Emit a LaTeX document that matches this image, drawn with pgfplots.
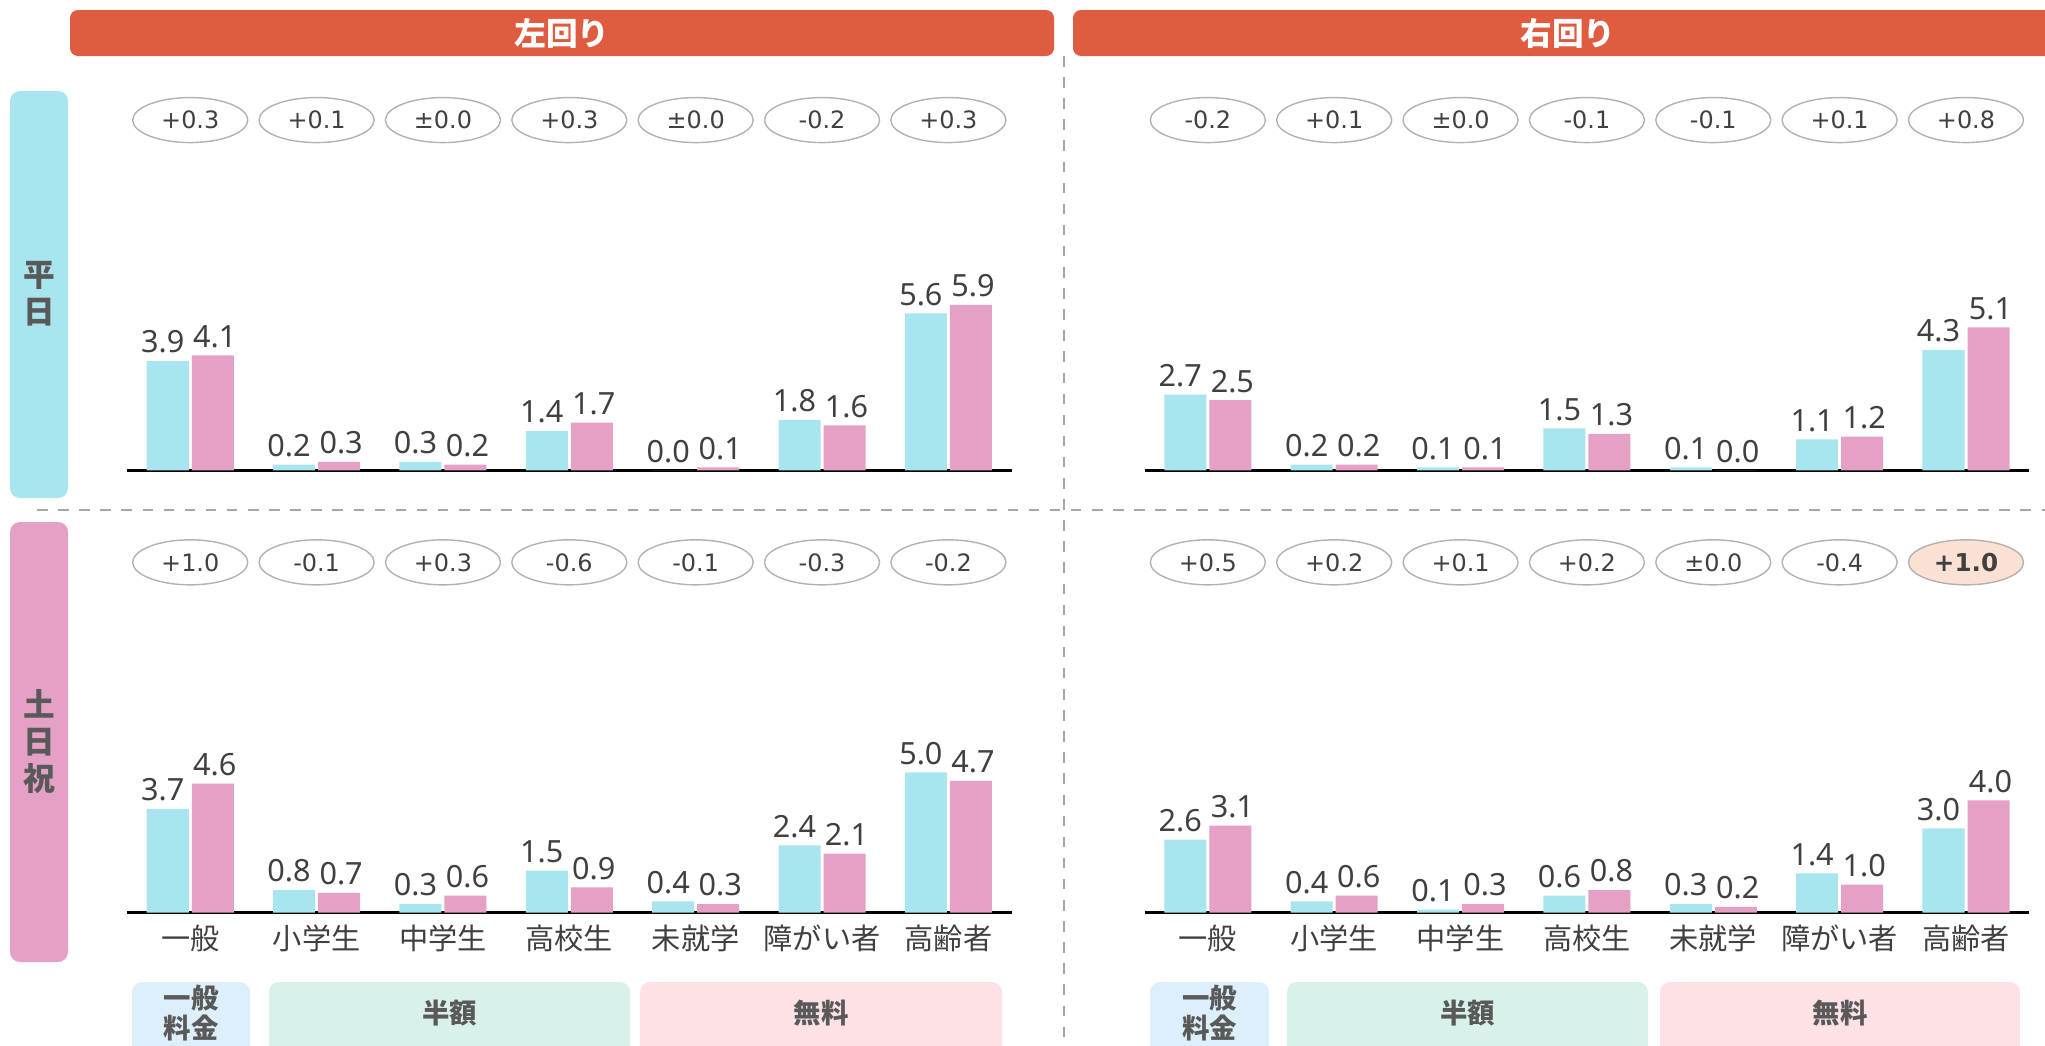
\documentclass[border=0pt]{standalone}
\usepackage{pgfplots}
\pgfplotsset{compat=1.18}
\usetikzlibrary{shapes.geometric}
\usepackage{fontspec}
\setmainfont{Noto Sans}
\newfontfamily\jp{Noto Sans CJK JP}
\newfontfamily\dv{DejaVu Sans}

\definecolor{barcyan}{HTML}{A9E5EE}
\definecolor{barpink}{HTML}{E5A0C6}
\definecolor{hdr}{HTML}{E05C40}
\definecolor{txt}{HTML}{404040}
\definecolor{sidetxt}{HTML}{595959}
\definecolor{boxblue}{HTML}{DDEFFA}
\definecolor{boxgreen}{HTML}{D8F1EA}
\definecolor{boxpink}{HTML}{FDE1E4}
\definecolor{peach}{HTML}{FBE1D3}

% 各パネル共通
\pgfplotsset{
  panel/.style={
    scale only axis, width=8.84cm, height=3.5cm,
    xmin=-0.5, xmax=6.5, ymin=0, ymax=12.5,
    axis x line*=bottom, axis y line=none,
    x axis line style={line width=0.8pt, -},
    ytick=\empty, xtick={0,...,6}, major tick length=0pt,
    ybar=0.03cm, bar width=0.42cm,
    clip=false, anchor=south west,
    nodes near coords={\pgfmathprintnumber[fixed,fixed zerofill,precision=1,assume math mode=true]{\pgfplotspointmeta}},
    every node near coord/.append style={font=\fontsize{8.7}{10}\selectfont, text=txt, inner sep=2pt},
    xticklabel style={font=\jp\fontsize{8.3}{9}\selectfont, text=txt},
  },
  notick/.style={xticklabels={}},
  cats/.style={xticklabels={一般,小学生,中学生,高校生,未就学,障がい者,高齢者}},
  cyanbar/.style={fill=barcyan, draw=none, every node near coord/.append style={xshift=-0.05cm}},
  pinkbar/.style={fill=barpink, draw=none, every node near coord/.append style={xshift=0.02cm}},
}
\tikzset{diff/.style={ellipse, draw=gray!60, fill=white, minimum width=1.15cm,
  minimum height=0.45cm, inner sep=0pt, text=txt, font=\dv\fontsize{6.8}{7.5}\selectfont}}

\begin{document}
\begin{tikzpicture}
\begin{scope}[x=0.01cm, y=-0.01cm]
  \useasboundingbox (0,0) rectangle (2045,1045);
  % 見出し
  \fill[hdr, rounded corners=0.08cm] (70,10) rectangle (1054,56);
  \node[text=white, font=\jp\bfseries\fontsize{9}{10}\selectfont] at (562,33) {左回り};
  \fill[hdr, rounded corners=0.08cm] (1073,10) rectangle (2063,56);
  \node[text=white, font=\jp\bfseries\fontsize{9}{10}\selectfont] at (1568,33) {右回り};
  % 左の帯
  \fill[barcyan, rounded corners=0.1cm] (10,91) rectangle (68,498);
  \node[text=sidetxt, align=center, font=\jp\bfseries\fontsize{9}{10.5}\selectfont] at (39,294) {平\\日};
  \fill[barpink, rounded corners=0.1cm] (10,522) rectangle (68,962);
  \node[text=sidetxt, align=center, font=\jp\bfseries\fontsize{9}{10.5}\selectfont] at (39,742) {土\\日\\祝};
  % 区切り線
  \draw[gray!70, dashed, line width=0.5pt] (37,510) -- (2045,510);
  \draw[gray!70, dashed, line width=0.5pt] (1064,56) -- (1064,1045);
  % 料金区分
  \foreach \xa/\xb/\c/\t in {132/250/boxblue/{一般\\料金}, 269/630/boxgreen/半額, 640/1002/boxpink/無料,
      1150/1269/boxblue/{一般\\料金}, 1287/1648/boxgreen/半額, 1660/2020/boxpink/無料} {
    \fill[\c, rounded corners=0.1cm] (\xa,982) rectangle (\xb,1070);
    \node[text=sidetxt, align=center, font=\jp\bfseries\fontsize{7.8}{8.6}\selectfont] at ({(\xa+\xb)/2},1013) {\t};
  }
\end{scope}

% 平日・左回り
\begin{axis}[panel, notick, at={(1.27cm,-4.70cm)}]
  \addplot[cyanbar] coordinates {(0,3.9) (1,0.2) (2,0.3) (3,1.4) (4,0.0) (5,1.8) (6,5.6)};
  \addplot[pinkbar] coordinates {(0,4.1) (1,0.3) (2,0.2) (3,1.7) (4,0.1) (5,1.6) (6,5.9)};
  \node[diff] at (axis cs:0,12.5) {+0.3};
  \node[diff] at (axis cs:1,12.5) {+0.1};
  \node[diff] at (axis cs:2,12.5) {±0.0};
  \node[diff] at (axis cs:3,12.5) {+0.3};
  \node[diff] at (axis cs:4,12.5) {±0.0};
  \node[diff] at (axis cs:5,12.5) {-0.2};
  \node[diff] at (axis cs:6,12.5) {+0.3};
\end{axis}

% 平日・右回り
\begin{axis}[panel, notick, at={(11.44cm,-4.70cm)}]
  \addplot[cyanbar] coordinates {(0,2.7) (1,0.2) (2,0.1) (3,1.5) (4,0.1) (5,1.1) (6,4.3)};
  \addplot[pinkbar] coordinates {(0,2.5) (1,0.2) (2,0.1) (3,1.3) (4,0.0) (5,1.2) (6,5.1)};
  \node[diff] at (axis cs:0,12.5) {-0.2};
  \node[diff] at (axis cs:1,12.5) {+0.1};
  \node[diff] at (axis cs:2,12.5) {±0.0};
  \node[diff] at (axis cs:3,12.5) {-0.1};
  \node[diff] at (axis cs:4,12.5) {-0.1};
  \node[diff] at (axis cs:5,12.5) {+0.1};
  \node[diff] at (axis cs:6,12.5) {+0.8};
\end{axis}

% 土日祝・左回り
\begin{axis}[panel, cats, at={(1.27cm,-9.12cm)}]
  \addplot[cyanbar] coordinates {(0,3.7) (1,0.8) (2,0.3) (3,1.5) (4,0.4) (5,2.4) (6,5.0)};
  \addplot[pinkbar] coordinates {(0,4.6) (1,0.7) (2,0.6) (3,0.9) (4,0.3) (5,2.1) (6,4.7)};
  \node[diff] at (axis cs:0,12.5) {+1.0};
  \node[diff] at (axis cs:1,12.5) {-0.1};
  \node[diff] at (axis cs:2,12.5) {+0.3};
  \node[diff] at (axis cs:3,12.5) {-0.6};
  \node[diff] at (axis cs:4,12.5) {-0.1};
  \node[diff] at (axis cs:5,12.5) {-0.3};
  \node[diff] at (axis cs:6,12.5) {-0.2};
\end{axis}

% 土日祝・右回り
\begin{axis}[panel, cats, at={(11.44cm,-9.12cm)}]
  \addplot[cyanbar] coordinates {(0,2.6) (1,0.4) (2,0.1) (3,0.6) (4,0.3) (5,1.4) (6,3.0)};
  \addplot[pinkbar] coordinates {(0,3.1) (1,0.6) (2,0.3) (3,0.8) (4,0.2) (5,1.0) (6,4.0)};
  \node[diff] at (axis cs:0,12.5) {+0.5};
  \node[diff] at (axis cs:1,12.5) {+0.2};
  \node[diff] at (axis cs:2,12.5) {+0.1};
  \node[diff] at (axis cs:3,12.5) {+0.2};
  \node[diff] at (axis cs:4,12.5) {±0.0};
  \node[diff] at (axis cs:5,12.5) {-0.4};
  \node[diff, fill=peach, font=\dv\bfseries\fontsize{7}{8}\selectfont] at (axis cs:6,12.5) {+1.0};
\end{axis}
\end{tikzpicture}
\end{document}
